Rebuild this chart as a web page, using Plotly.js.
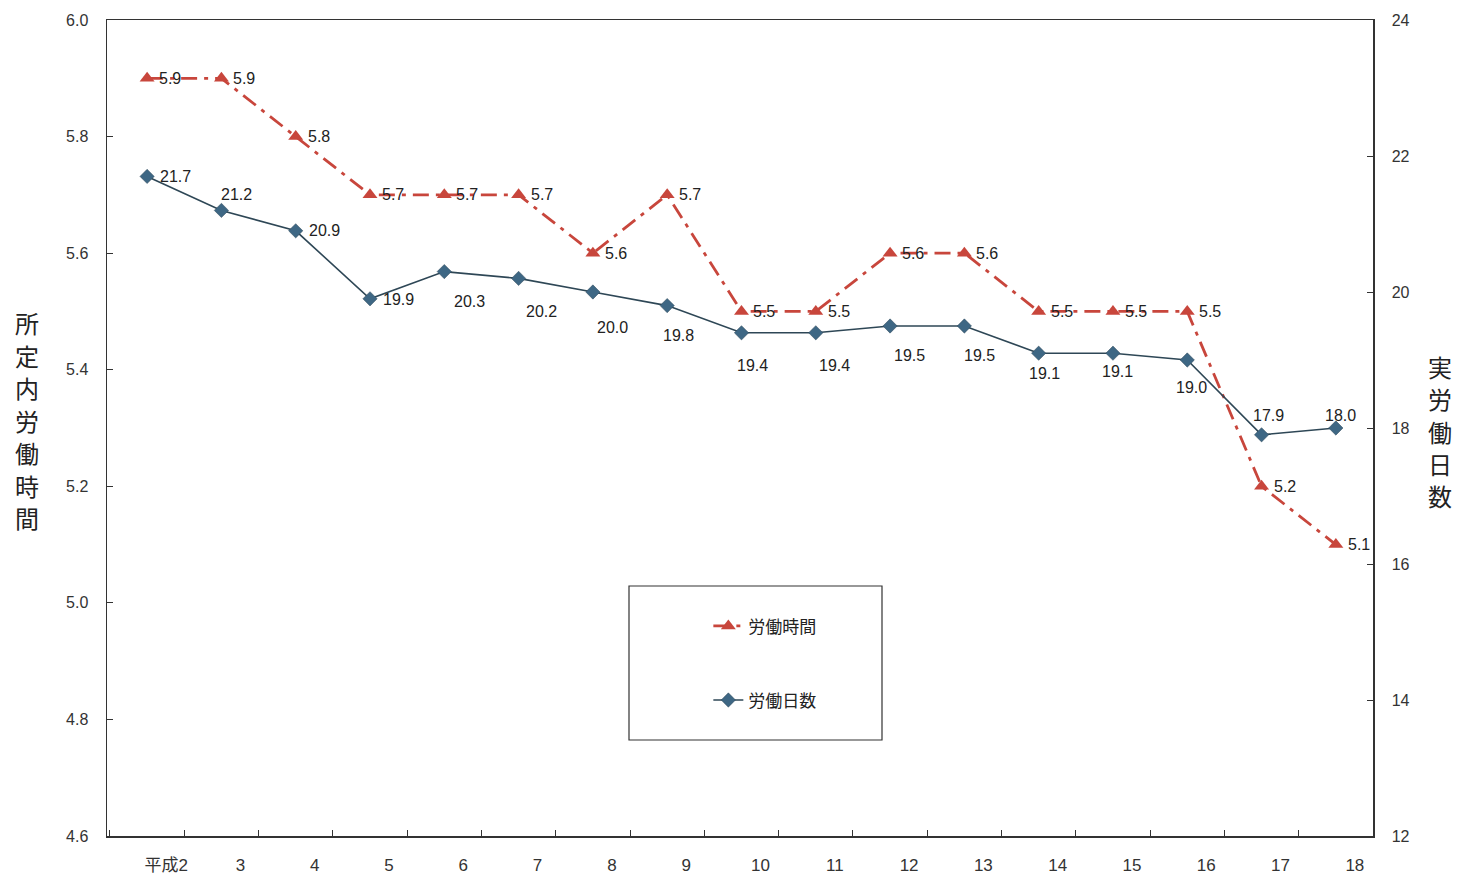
<!DOCTYPE html>
<html>
<head>
<meta charset="utf-8">
<script src="https://cdn.plot.ly/plotly-3.0.1.min.js"></script>
<style>html,body{margin:0;padding:0;background:#fff;}#chart{width:1457px;height:875px;}</style>
</head>
<body>
<div id="chart"></div>
<script>
// ---- data ----
const categories = ['平成2','3','4','5','6','7','8','9','10','11','12','13','14','15','16','17','18'];
const hours = [5.9,5.9,5.8,5.7,5.7,5.7,5.6,5.7,5.5,5.5,5.6,5.6,5.5,5.5,5.5,5.2,5.1];
const days  = [21.7,21.2,20.9,19.9,20.3,20.2,20.0,19.8,19.4,19.4,19.5,19.5,19.1,19.1,19.0,17.9,18.0];
const hoursName = '労働時間';
const daysName = '労働日数';
const leftTitle = '所定内労働時間';
const rightTitle = '実労働日数';

// ---- label placement styles (pixels) ----
const daysDx = [28,15,29,28,25,23,20,11,11,19,19,15,6,5,4,7,5];
const daysDy = [0,16,0,-1,-30,-33,-35,-30,-33,-33,-29,-29,-20,-18,-27,19,13];
const hoursDx = 23;

const FONT = 'Liberation Sans, Arial, Noto Sans CJK JP, sans-serif';
const JFONT = 'Noto Sans CJK JP, sans-serif';
const RED = '#C8463C';
const BLUE_LINE = '#2E4756';
const BLUE_MK = '#3E6784';

const traces = [
  {
    x: categories, y: hours, name: hoursName, type: 'scatter', mode: 'lines+markers',
    yaxis: 'y', legendgroup: 'a',
    line: {color: RED, width: 2.8, dash: '16px,7px,4px,7px'},
    marker: {symbol: 'triangle-up', size: 13, color: RED}
  },
  {
    x: categories, y: days, name: daysName, type: 'scatter', mode: 'lines+markers',
    yaxis: 'y2', legendgroup: 'b',
    line: {color: BLUE_LINE, width: 1.6},
    marker: {symbol: 'diamond', size: 11, color: BLUE_MK, line: {color: BLUE_LINE, width: 0.5}}
  }
];

const annotations = [];
hours.forEach((v, i) => annotations.push({
  x: i, y: v, xref: 'x', yref: 'y', text: v.toFixed(1), showarrow: false,
  xshift: hoursDx, yshift: 0, font: {family: FONT, size: 16, color: '#222'}
}));
days.forEach((v, i) => annotations.push({
  x: i, y: v, xref: 'x', yref: 'y2', text: v.toFixed(1), showarrow: false,
  xshift: daysDx[i], yshift: daysDy[i], font: {family: FONT, size: 16, color: '#222'}
}));
// vertical stacked axis titles, one character per line
function stacked(str, xPaper, yCenterPx, step) {
  const n = str.length;
  str.split('').forEach((ch, k) => {
    const ypx = yCenterPx + (k - (n - 1) / 2) * step;
    annotations.push({
      xref: 'paper', yref: 'paper', x: xPaper, y: (836 - ypx) / 816,
      xanchor: 'center', yanchor: 'middle', text: ch, showarrow: false,
      font: {family: JFONT, size: 24, color: '#222'}
    });
  });
}
stacked(leftTitle, (27 - 107) / 1266, 420, 32.5);
stacked(rightTitle, (1440 - 107) / 1266, 431, 32.5);

const layout = {
  width: 1457, height: 875,
  margin: {l: 107, r: 84, t: 20, b: 39},
  paper_bgcolor: '#fff', plot_bgcolor: '#fff',
  showlegend: true,
  legend: {
    x: 0.475, y: 0.279, xanchor: 'left', yanchor: 'top',
    traceorder: 'grouped', tracegroupgap: 49,
    bgcolor: 'rgba(0,0,0,0)', borderwidth: 0,
    font: {family: JFONT, size: 17, color: '#222'}
  },
  shapes: [{
    type: 'rect', xref: 'paper', yref: 'paper',
    x0: (629-107)/1266, x1: (882-107)/1266,
    y0: (836-740)/816, y1: (836-586)/816,
    line: {color: '#333', width: 1.2}, fillcolor: 'rgba(0,0,0,0)'
  }],
  xaxis: {
    type: 'category', range: [-0.54, 16.5],
    tickson: 'boundaries', ticks: 'inside', ticklen: 6, tickcolor: '#333',
    ticklabelshift: 19, ticklabelstandoff: 13,
    showline: true, linecolor: '#333', linewidth: 1.5, mirror: true,
    showgrid: false, zeroline: false,
    tickfont: {family: FONT, size: 17, color: '#333'}
  },
  yaxis: {
    range: [4.6, 6.0], tickmode: 'linear', tick0: 4.6, dtick: 0.2, tickformat: '.1f',
    ticks: 'inside', ticklen: 6, tickcolor: '#333', ticklabelstandoff: 14,
    showline: true, linecolor: '#333', linewidth: 1.5,
    showgrid: false, zeroline: false,
    tickfont: {family: FONT, size: 16, color: '#333'}
  },
  yaxis2: {
    range: [12, 24], tickmode: 'linear', tick0: 12, dtick: 2,
    overlaying: 'y', side: 'right',
    ticks: 'inside', ticklen: 6, tickcolor: '#333', ticklabelstandoff: 14,
    showline: true, linecolor: '#333', linewidth: 1.5,
    showgrid: false, zeroline: false,
    tickfont: {family: FONT, size: 16, color: '#333'}
  },
  annotations: annotations
};

Plotly.newPlot('chart', traces, layout, {displayModeBar: false, staticPlot: true});
</script>
</body>
</html>
